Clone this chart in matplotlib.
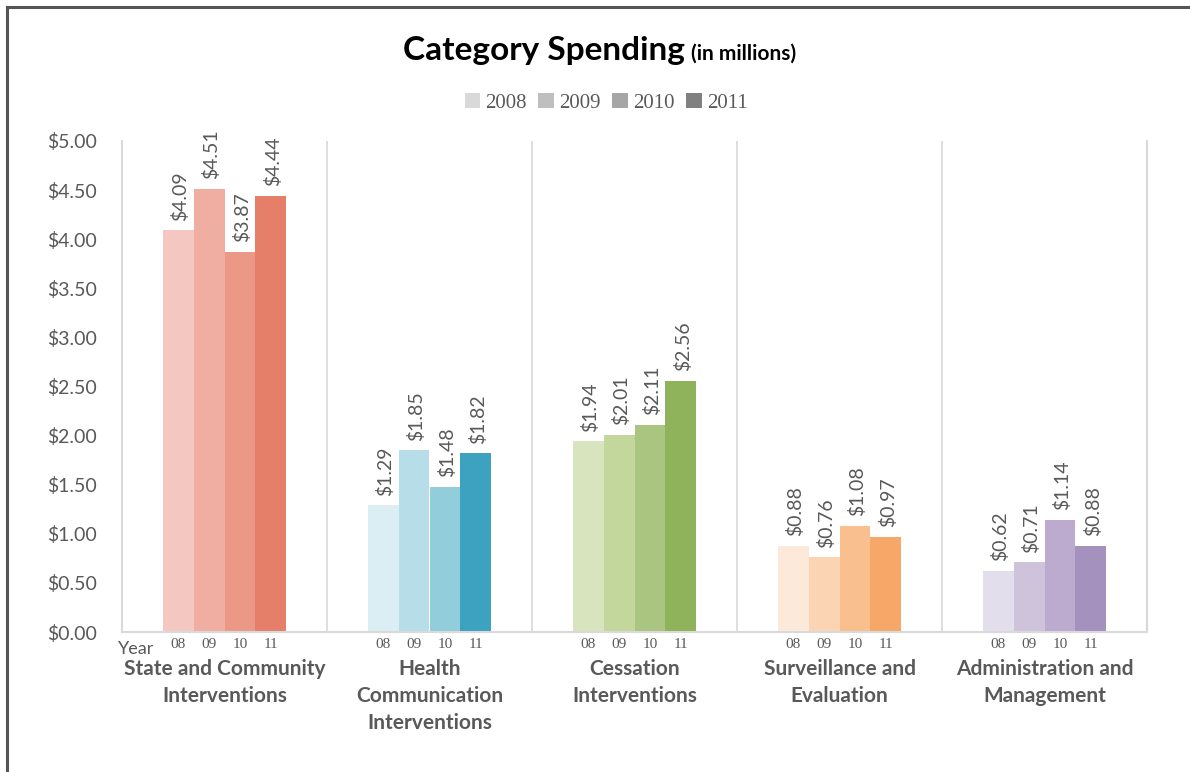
import matplotlib
matplotlib.use("Agg")
import matplotlib.pyplot as plt
from matplotlib.patches import Patch
from matplotlib.lines import Line2D
from matplotlib.transforms import blended_transform_factory
import numpy as np

categories = [
    "State and Community\nInterventions",
    "Health\nCommunication\nInterventions",
    "Cessation\nInterventions",
    "Surveillance and\nEvaluation",
    "Administration and\nManagement",
]
years = ["2008", "2009", "2010", "2011"]
year_ticks = ["08", "09", "10", "11"]

state_community = [4.09, 4.51, 3.87, 4.44]
health_comm = [1.29, 1.85, 1.48, 1.82]
cessation = [1.94, 2.01, 2.11, 2.56]
surveillance = [0.88, 0.76, 1.08, 0.97]
administration = [0.62, 0.71, 1.14, 0.88]

yticks = [0, 0.5, 1.0, 1.5, 2.0, 2.5, 3.0, 3.5, 4.0, 4.5, 5.0]

series = [state_community, health_comm, cessation, surveillance, administration]
palettes = [
    ["#F4C8C0", "#F0AEA2", "#EC9886", "#E57F69"],
    ["#DAEEF3", "#B7DEE8", "#92CDDC", "#3CA2C0"],
    ["#D7E4BD", "#C3D69B", "#AAC57F", "#8FB35A"],
    ["#FDE9D9", "#FBD4B4", "#F9BF8F", "#F7A868"],
    ["#E3DEEB", "#CFC3DC", "#BCABCE", "#A491BD"],
]
legend_colors = ["#D9D9D9", "#BFBFBF", "#A6A6A6", "#808080"]

TXT = "#595959"
GRID = "#D9D9D9"
SANS = ["Lato", "DejaVu Sans"]
SERIF = ["Liberation Serif", "DejaVu Serif"]

fig = plt.figure(figsize=(11.9, 7.72), dpi=100)
ax = fig.add_axes([122 / 1190, 1 - 632 / 772, (1147 - 122) / 1190, (632 - 141) / 772])

bw = 0.151
offsets = (np.arange(4) - 1.5) * bw
tick_pos, tick_lab = [], []
for g, (vals, cols) in enumerate(zip(series, palettes)):
    xs = g + offsets
    ax.bar(xs, vals, width=bw, color=cols, linewidth=0)
    for x, v in zip(xs, vals):
        ax.annotate(f"${v:.2f}", (x, v), xytext=(1.5, 7), textcoords="offset points",
                    rotation=90, ha="center", va="bottom", color=TXT,
                    fontsize=14, family=SANS)
    tick_pos.extend(xs)
    tick_lab.extend(year_ticks)

ax.set_xlim(-0.5, 4.5)
ax.set_ylim(0, 5)
ax.set_yticks(yticks)
ax.set_yticklabels([f"${t:.2f}" for t in yticks], color=TXT, fontsize=14, family=SANS)
ax.set_xticks(tick_pos)
ax.set_xticklabels(tick_lab, color=TXT, fontsize=11, family=SERIF)
ax.tick_params(axis="both", length=0)
ax.tick_params(axis="y", pad=18)
ax.tick_params(axis="x", pad=4)

for s in ["left", "right", "bottom"]:
    ax.spines[s].set_color(GRID)
    ax.spines[s].set_linewidth(1.5)
ax.spines["top"].set_visible(False)
for xv in [0.5, 1.5, 2.5, 3.5]:
    ax.axvline(xv, color=GRID, linewidth=1.2, zorder=0)

trans = blended_transform_factory(ax.transData, ax.transAxes)
for g, name in enumerate(categories):
    ax.text(g, -0.055, name, transform=trans, ha="center", va="top",
            color=TXT, fontsize=15, fontweight="bold", family=SANS,
            linespacing=1.45)
ax.text(-0.52, -0.018, "Year", transform=trans, ha="left", va="top",
        color=TXT, fontsize=13, family=SANS)

# title: large bold phrase followed by a smaller unit note
fig.canvas.draw()
renderer = fig.canvas.get_renderer()
title_y = 1 - 60 / 772
t1 = fig.text(403 / 1190, title_y, "Category Spending", ha="left", va="baseline",
              fontsize=24, fontweight="bold", family=SANS, color="black")
bb = t1.get_window_extent(renderer=renderer)
fig.text((bb.x1 + 6) / fig.bbox.width, title_y, "(in millions)", ha="left", va="baseline",
         fontsize=15, fontweight="bold", family=SANS, color="black")

# legend
handles = [Patch(facecolor=c, edgecolor="none") for c in legend_colors]
fig.legend(handles, years, loc="center", bbox_to_anchor=(606 / 1190, 1 - 103 / 772),
           ncol=4, frameon=False, prop={"family": SERIF, "size": 15},
           handlelength=0.75, handleheight=0.75, handletextpad=0.25,
           columnspacing=0.55, labelcolor=TXT)

# outer frame edges
fig.add_artist(Line2D([7 / 1190, 7 / 1190], [0, 1 - 7 / 772], transform=fig.transFigure,
                      color="#555555", linewidth=2.2))
fig.add_artist(Line2D([7 / 1190, 1], [1 - 7 / 772, 1 - 7 / 772], transform=fig.transFigure,
                      color="#555555", linewidth=2.2))

fig.savefig("out.png", dpi=100, facecolor="white")
